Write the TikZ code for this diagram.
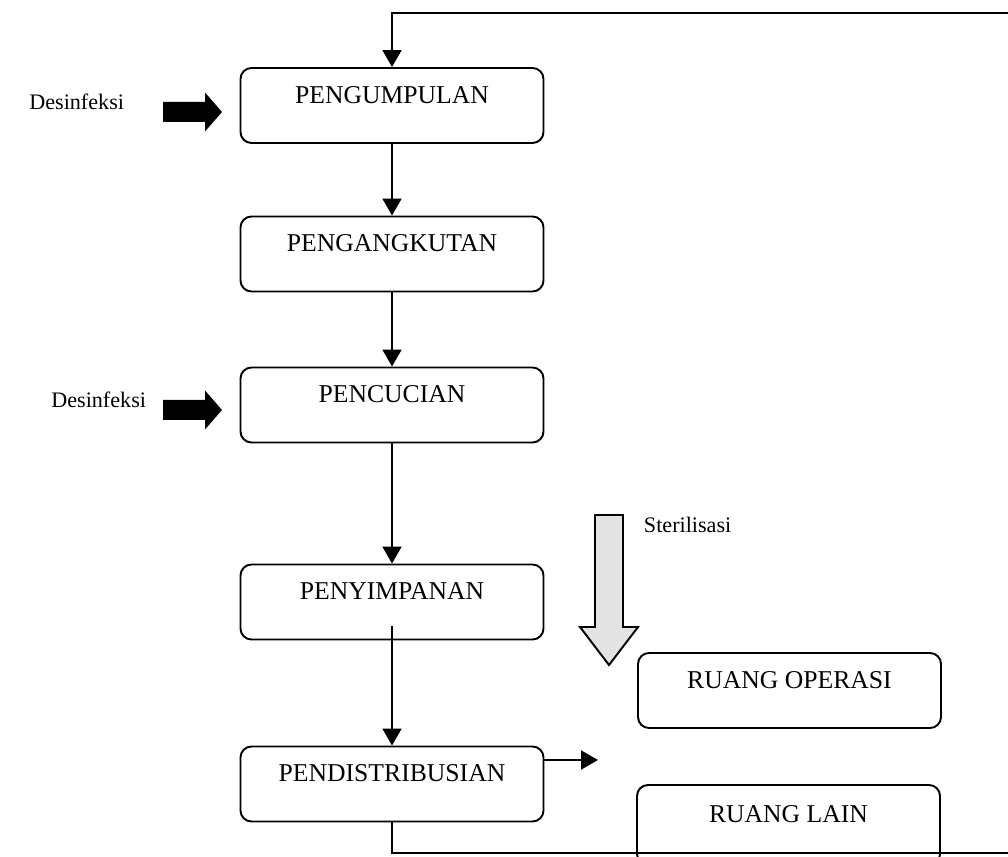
\documentclass[tikz,border=0pt]{standalone}
\usepackage{fontspec}
\setmainfont{Liberation Serif}
\usetikzlibrary{arrows.meta}

\begin{document}
\begin{tikzpicture}[>={Triangle[width=0.38cm,length=0.34cm]},line width=1.1pt,
  stage/.style={draw,rounded corners=0.22cm,minimum width=6.06cm,minimum height=1.5cm,inner sep=0pt,text height=0.35cm,text depth=0.44cm,font=\fontsize{14.6pt}{17pt}\selectfont},
  side/.style={inner sep=0pt,font=\fontsize{12.6pt}{15pt}\selectfont}]
\useasboundingbox (0,0) rectangle (20.16,17.12);
\clip (0,0) rectangle (20.16,17.12);
% stages of the flow
\node[stage] (kumpul) at (7.84,15.01) {PENGUMPULAN};
\node[stage] (angkut) at (7.84,12.04) {PENGANGKUTAN};
\node[stage] (cuci) at (7.84,9.02) {PENCUCIAN};
\node[stage] (simpan) at (7.84,5.08) {PENYIMPANAN};
\node[stage] (distribusi) at (7.84,1.44) {PENDISTRIBUSIAN};
\node[stage] (operasi) at (15.79,3.31) {RUANG OPERASI};
\node[stage,minimum height=1.6cm] (lain) at (15.77,0.62) {RUANG LAIN};
\node[side,anchor=base east] (desinf1) at (2.5,14.92) {Desinfeksi};
\node[side,anchor=base east] (desinf2) at (2.94,8.96) {Desinfeksi};
\node[side,anchor=base west] (sterilisasi) at (12.86,6.46) {Sterilisasi};
\coordinate (des1) at (3.26,14.88);
\coordinate (des2) at (3.26,8.92);
\coordinate (ster) at (11.9,6.82);
\coordinate (keluar) at (11.96,1.92);
\coordinate (balikB) at (20.6,0.06);
\coordinate (balikA) at (20.6,16.86);
% connectors
\draw[->] (kumpul) -- (angkut);
\draw[->] (angkut) -- (cuci);
\draw[->] (cuci) -- (simpan);
\draw[->] ([yshift=0.28cm]simpan.south) -- (distribusi);
\draw[->] (distribusi.east |- keluar) -- (keluar);
\draw[->] (distribusi.south) |- (balikB) -- (balikA) -| (kumpul.north);
% block arrows
\fill (des1) -- ++(0,0.2) -- ++(0.84,0) -- ++(0,0.19) -- ++(0.34,-0.39) -- ++(-0.34,-0.39) -- ++(0,0.19) -- ++(-0.84,0) -- cycle;
\fill (des2) -- ++(0,0.2) -- ++(0.84,0) -- ++(0,0.19) -- ++(0.34,-0.39) -- ++(-0.34,-0.39) -- ++(0,0.19) -- ++(-0.84,0) -- cycle;
\filldraw[fill=gray!22] (ster) -- ++(0.56,0) -- ++(0,-2.24) -- ++(0.3,0) -- ++(-0.58,-0.76) -- ++(-0.58,0.76) -- ++(0.3,0) -- cycle;
\end{tikzpicture}
\end{document}
